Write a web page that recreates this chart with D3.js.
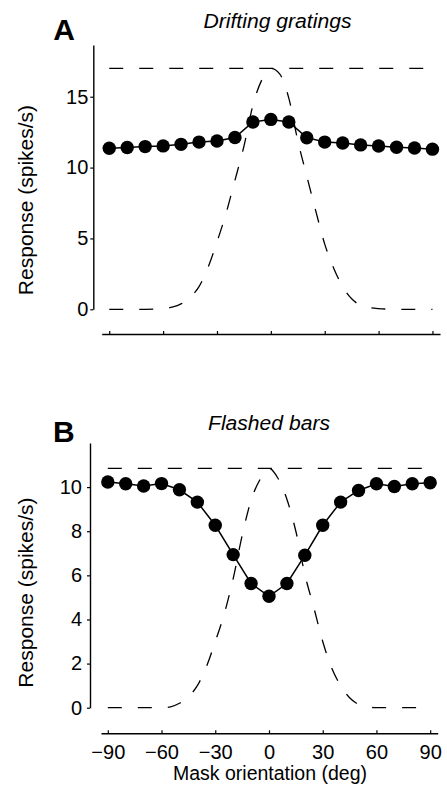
<!DOCTYPE html>
<html>
<head>
<meta charset="utf-8">
<script src="https://cdn.jsdelivr.net/npm/d3@7"></script>
<style>
  html, body { margin: 0; padding: 0; background: #fff; }
  svg { display: block; }
  text { font-family: "Liberation Sans", Arial, sans-serif; fill: #000; }
</style>
</head>
<body>
<script>
// ---- data ----
const orientations = [-90,-80,-70,-60,-50,-40,-30,-20,-10,0,10,20,30,40,50,60,70,80,90];
const driftingResp = [11.36,11.42,11.48,11.53,11.64,11.80,11.88,12.12,13.22,13.40,13.22,12.11,11.80,11.74,11.60,11.52,11.43,11.38,11.30];
const flashedResp  = [10.23,10.15,10.05,10.16,9.88,9.32,8.27,6.94,5.63,5.05,5.63,6.91,8.27,9.32,9.85,10.15,10.03,10.15,10.20];

const maskDeg = [-90,-80,-70,-60,-55,-50,-45,-40,-35,-30,-25,-20,-15,-10,-5,0,5,10,15,20,25,30,35,40,45,50,55,60,70,80,90];
const maskTop = [0,0,0,0.05,0.15,0.38,0.85,1.6,2.95,4.75,6.75,9.1,11.5,14.4,16.2,17.0,16.6,14.9,11.9,9.4,6.95,4.6,2.9,1.6,0.74,0.28,0.12,0.05,0,0,0];
const maskBot = [0,0,0,0,0.04,0.2,0.5,1.0,1.85,3.0,4.25,5.85,7.8,9.4,10.35,10.85,10.4,9.45,8.0,6.05,4.55,3.0,1.8,1.0,0.45,0.15,0.04,0,0,0,0];

const levelTop = [17.0];
const levelBot = [10.85];

const xTicks = [-90,-60,-30,0,30,60,90];
const yTicksTop = [0,5,10,15];
const yTicksBot = [0,2,4,6,8,10];

const titles = ["Drifting gratings", "Flashed bars"];
const panelLetters = ["A", "B"];
const yLabel = "Response (spikes/s)";
const xLabel = "Mask orientation (deg)";

// ---- drawing ----
const W = 447, H = 792;
const svg = d3.select("body").append("svg").attr("width", W).attr("height", H);

const panels = [
  { resp: driftingResp, mask: maskTop, level: levelTop[0], yTicks: yTicksTop,
    x: d3.scaleLinear().domain([-94.2, 94.2]).range([101.7, 440]),
    y: d3.scaleLinear().domain([0, 18.65]).range([309.3, 45]),
    yAxisX: 93.3, xAxisY: 334, yPad: 2, labels: false,
    title: titles[0], titleX: 277.5, titleY: 27.7, titleLen: 148,
    letter: panelLetters[0], letterX: 53.3, letterY: 40,
    yLabelCy: 200 },
  { resp: flashedResp, mask: maskBot, level: levelBot[0], yTicks: yTicksBot,
    x: d3.scaleLinear().domain([-93.8, 94.2]).range([101, 437.7]),
    y: d3.scaleLinear().domain([0, 12]).range([707.7, 443]),
    yAxisX: 90, xAxisY: 733.3, yPad: 5, labels: true,
    title: titles[1], titleX: 269, titleY: 430, titleLen: 122,
    letter: panelLetters[1], letterX: 53, letterY: 442,
    yLabelCy: 592.5 }
];

panels.forEach(p => {
  const g = svg.append("g");

  // y axis
  const ya = g.append("g")
    .attr("transform", `translate(${p.yAxisX},0)`)
    .call(d3.axisLeft(p.y).tickValues(p.yTicks).tickSize(3).tickSizeOuter(0).tickPadding(p.yPad));
  ya.selectAll("text").style("font-size", "20px").style("font-family", '"Liberation Sans", Arial, sans-serif');

  // x axis
  const xa = g.append("g")
    .attr("transform", `translate(0,${p.xAxisY})`)
    .call(d3.axisBottom(p.x).tickValues(xTicks).tickSize(-3).tickSizeOuter(0).tickPadding(11.5)
      .tickFormat(p.labels ? d3.format("d") : () => ""));
  xa.selectAll("text").style("font-size", "20px").style("font-family", '"Liberation Sans", Arial, sans-serif');

  [ya, xa].forEach(a => {
    a.selectAll("path.domain").attr("stroke", "#000").attr("stroke-width", 1.4);
    a.selectAll(".tick line").attr("stroke", "#000").attr("stroke-width", 1.2);
    a.selectAll("text").attr("fill", "#000");
  });

  // horizontal dashed reference level
  g.append("path")
    .datum([-90, 90])
    .attr("d", d3.line().x(d => p.x(d)).y(() => p.y(p.level)))
    .attr("fill", "none").attr("stroke", "#000").attr("stroke-width", 1.3)
    .attr("stroke-dasharray", "14,16");

  // dashed mask tuning curve
  g.append("path")
    .datum(maskDeg.map((d, i) => [d, p.mask[i]]))
    .attr("d", d3.line().x(d => p.x(d[0])).y(d => p.y(d[1])).curve(d3.curveMonotoneX))
    .attr("fill", "none").attr("stroke", "#000").attr("stroke-width", 1.3)
    .attr("stroke-dasharray", "14,16");

  // response line
  const pts = orientations.map((d, i) => [d, p.resp[i]]);
  g.append("path")
    .datum(pts)
    .attr("d", d3.line().x(d => p.x(d[0])).y(d => p.y(d[1])))
    .attr("fill", "none").attr("stroke", "#000").attr("stroke-width", 1.5);

  g.selectAll("circle.pt").data(pts).enter().append("circle")
    .attr("class", "pt")
    .attr("cx", d => p.x(d[0])).attr("cy", d => p.y(d[1]))
    .attr("r", 6.7).attr("fill", "#000");

  // title
  g.append("text")
    .attr("x", p.titleX).attr("y", p.titleY)
    .attr("text-anchor", "middle")
    .attr("textLength", p.titleLen).attr("lengthAdjust", "spacingAndGlyphs")
    .style("font-size", "20px").style("font-style", "italic")
    .text(p.title);

  // panel letter
  g.append("text")
    .attr("x", p.letterX).attr("y", p.letterY)
    .style("font-size", "30px").style("font-weight", "bold")
    .text(p.letter);

  // y label
  g.append("text")
    .attr("transform", `translate(33.3,${p.yLabelCy}) rotate(-90)`)
    .attr("text-anchor", "middle")
    .style("font-size", "21px")
    .text(yLabel);

  if (p.labels) {
    g.append("text")
      .attr("x", 270).attr("y", 780)
      .attr("text-anchor", "middle")
      .style("font-size", "19.5px")
      .text(xLabel);
  }
});
</script>
</body>
</html>
